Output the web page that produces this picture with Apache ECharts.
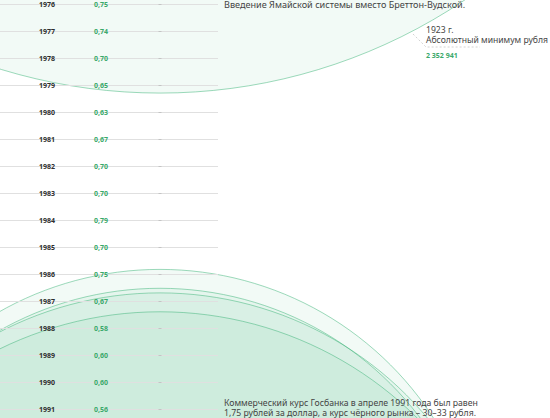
<!DOCTYPE html>
<html><head><meta charset="utf-8">
<script src="https://cdn.jsdelivr.net/npm/echarts@6/dist/echarts.min.js"></script>
<style>html,body{margin:0;padding:0;background:#fff}#c{width:550px;height:418px}</style>
</head><body><div id="c"></div>
<script>
// Rows: year and rouble-per-dollar rate
const years = [1976,1977,1978,1979,1980,1981,1982,1983,1984,1985,1986,1987,1988,1989,1990,1991];
const rates = [0.75,0.74,0.70,0.65,0.63,0.67,0.70,0.70,0.79,0.70,0.75,0.67,0.58,0.60,0.60,0.56];
// Background circles: centre (in row/year units) and radius (in row units)
const circleCentres = [1959.1, 1997.9, 1998.6, 1999.6, 2000.9];
const circleRadii = [20.2, 12.07, 12.07, 12.9, 13.5];
// Annotations
const noteYears = [1976, 1991];
const noteTexts = [
  'Введение Ямайской системы вместо Бреттон-Вудской.',
  'Коммерческий курс Госбанка в апреле 1991 года был равен\n1,75 рублей за доллар, а курс чёрного рынка – 30–33 рубля.'
];
const minNoteTitle = '1923 г.\nАбсолютный минимум рубля';
const minNoteValue = '2 352 941';

const ROW = 27;
const yMin = 1976 - 4 / ROW;
const yMax = yMin + 418 / ROW;
const GREEN = '#3aa96b';
const noteFonts = ['9.1px "Noto Sans", sans-serif', '8.7px "Noto Sans", sans-serif'];
const fmt = v => v.toFixed(2).replace('.', ',');

const chart = echarts.init(document.getElementById('c'), null, {renderer: 'svg'});
chart.setOption({
  animation: false,
  grid: {left: 0, right: 0, top: 0, bottom: 0},
  xAxis: {type: 'value', min: 0, max: 550, show: false},
  yAxis: {type: 'value', min: yMin, max: yMax, inverse: true, show: false},
  series: [
    {
      type: 'custom', z: 1, silent: true,
      data: circleCentres.map((c, i) => [160, c, circleRadii[i]]),
      renderItem(params, api) {
        const c = api.coord([api.value(0), api.value(1)]);
        const r = api.size([0, api.value(2)])[1];
        return {
          type: 'circle',
          shape: {cx: c[0], cy: c[1], r: r},
          style: {fill: 'rgba(60,180,120,0.065)', stroke: 'rgba(60,180,120,0.5)', lineWidth: 1}
        };
      }
    },
    {
      type: 'custom', z: 3, silent: true,
      data: years.map((y, i) => [y, rates[i]]),
      renderItem(params, api) {
        const y = api.value(0);
        const a = api.coord([0, y]);
        const b = api.coord([218, y]);
        const t = api.coord([160, y]);
        const yr = api.coord([47, y]);
        const vl = api.coord([94, y]);
        return {
          type: 'group',
          children: [
            {type: 'line', shape: {x1: a[0], y1: a[1] + 0.5, x2: b[0], y2: b[1] + 0.5}, style: {stroke: '#e0e0e0', lineWidth: 1}},
            {type: 'line', shape: {x1: t[0] - 1.5, y1: t[1] + 0.5, x2: t[0] + 1.5, y2: t[1] + 0.5}, style: {stroke: '#c4c4c4', lineWidth: 1}},
            {type: 'text', x: yr[0], y: yr[1], style: {text: String(y), align: 'center', verticalAlign: 'middle', fill: '#2e2e2e', font: 'bold 7px "Noto Sans", sans-serif'}},
            {type: 'text', x: vl[0], y: vl[1], style: {text: fmt(api.value(1)), align: 'left', verticalAlign: 'middle', fill: GREEN, font: 'bold 7px "Noto Sans", sans-serif'}}
          ]
        };
      }
    },
    {
      type: 'custom', z: 4, silent: true,
      data: noteYears.map((y, i) => [224, y, i]),
      renderItem(params, api) {
        const i = api.value(2);
        const p = api.coord([api.value(0), api.value(1)]);
        return {
          type: 'text', x: p[0], y: p[1] - (i === 1 ? 1 : 0),
          style: {text: noteTexts[i], align: 'left', verticalAlign: 'middle', fill: '#444', font: noteFonts[i], lineHeight: 10}
        };
      }
    }
  ],
  graphic: [
    {type: 'polyline', shape: {points: [[413, 34], [426, 47], [480, 47]]}, style: {stroke: '#c8c8c8', lineWidth: 0.8, lineDash: [2, 2], fill: null}, z: 10},
    {type: 'text', left: 426, top: 25, style: {text: minNoteTitle, fill: '#444', font: '8.6px "Noto Sans", sans-serif', lineHeight: 10}, z: 10},
    {type: 'text', left: 426, top: 52, style: {text: minNoteValue, fill: GREEN, font: 'bold 7px "Noto Sans", sans-serif'}, z: 10}
  ]
});
</script>
</body></html>
